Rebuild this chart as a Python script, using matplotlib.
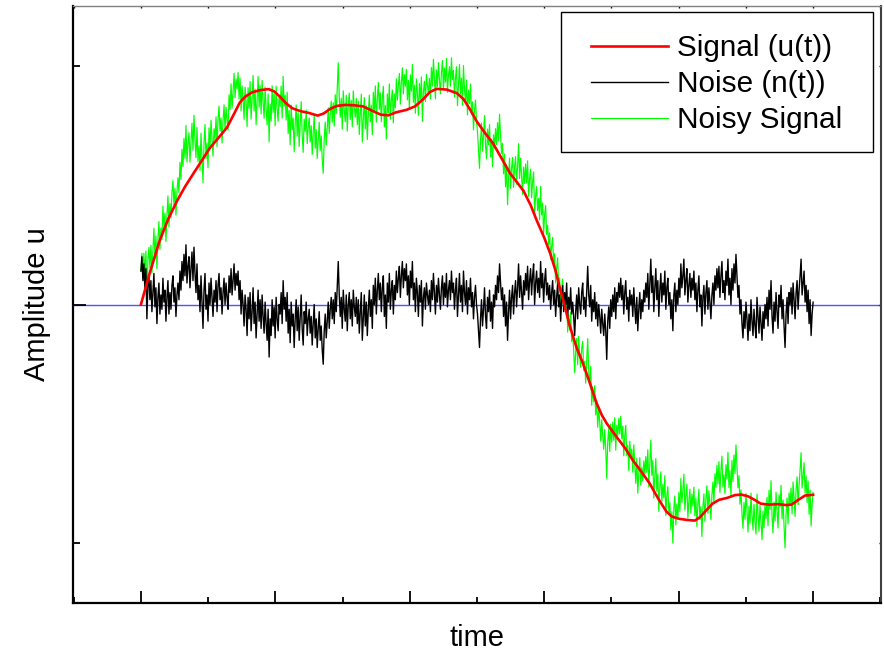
import numpy as np
import matplotlib
matplotlib.use("Agg")
import matplotlib.pyplot as plt
from matplotlib.ticker import MultipleLocator, FixedLocator
from matplotlib.patches import Rectangle

plt.rcParams['font.family'] = ['Liberation Sans', 'DejaVu Sans']

# smooth signal u(t)
signal_t = [0.000, 0.014, 0.028, 0.041, 0.054, 0.066, 0.078, 0.090, 0.103, 0.116,
            0.128, 0.138, 0.147, 0.155, 0.165, 0.178, 0.190, 0.198, 0.207, 0.215,
            0.225, 0.237, 0.250, 0.263, 0.272, 0.282, 0.292, 0.305, 0.318, 0.330,
            0.345, 0.357, 0.368, 0.380, 0.395, 0.408, 0.420, 0.430, 0.440, 0.455,
            0.470, 0.480, 0.490, 0.500, 0.512, 0.524, 0.537, 0.549, 0.560, 0.569,
            0.580, 0.589, 0.600, 0.609, 0.617, 0.623, 0.630, 0.637, 0.648, 0.656,
            0.663, 0.671, 0.678, 0.686, 0.693, 0.700, 0.708, 0.720, 0.732, 0.745,
            0.757, 0.770, 0.782, 0.790, 0.800, 0.812, 0.824, 0.832, 0.840, 0.850,
            0.860, 0.872, 0.884, 0.893, 0.903, 0.913, 0.922, 0.935, 0.948, 0.960,
            0.968, 0.978, 0.988, 1.000]
signal_u = [0.000, 0.140, 0.268, 0.360, 0.435, 0.495, 0.548, 0.600, 0.657, 0.700,
            0.741, 0.795, 0.845, 0.870, 0.888, 0.898, 0.902, 0.893, 0.870, 0.845,
            0.822, 0.810, 0.802, 0.791, 0.800, 0.820, 0.832, 0.836, 0.834, 0.830,
            0.810, 0.795, 0.792, 0.805, 0.815, 0.830, 0.860, 0.890, 0.903, 0.900,
            0.885, 0.860, 0.815, 0.765, 0.718, 0.674, 0.610, 0.550, 0.510, 0.477,
            0.415, 0.351, 0.280, 0.213, 0.140, 0.071, 0.000, -0.080, -0.180, -0.235,
            -0.289, -0.355, -0.414, -0.465, -0.498, -0.525, -0.556, -0.600, -0.653, -0.702,
            -0.750, -0.815, -0.868, -0.888, -0.897, -0.902, -0.905, -0.890, -0.865, -0.835,
            -0.818, -0.810, -0.798, -0.796, -0.803, -0.818, -0.834, -0.838, -0.836, -0.840,
            -0.838, -0.818, -0.800, -0.797]

# noise n(t), sampled evenly over the time span
noise_n = [
    0.14, 0.20, 0.10, 0.17, 0.06, 0.15, -0.06, 0.08, 0.12, 0.02, 0.10, -0.03,
    0.05, 0.13, -0.01, 0.07, -0.08, 0.03, 0.09, -0.04, 0.04, -0.02, 0.11, 0.01,
    0.06, -0.07, 0.03, 0.10, -0.04, 0.05, -0.02, 0.08, 0.12, 0.01, 0.07, -0.05,
    0.04, 0.09, 0.02, 0.14, 0.06, 0.18, 0.10, 0.21, 0.12, 0.25, 0.09, 0.16,
    0.20, 0.07, 0.15, 0.22, 0.10, 0.24, 0.13, 0.05, 0.17, 0.02, 0.08, -0.03,
    0.12, 0.01, -0.10, 0.06, 0.13, -0.02, 0.04, -0.07, 0.09, 0.00, 0.11, 0.03,
    -0.05, 0.06, 0.01, 0.10, -0.03, 0.08, 0.13, 0.02, 0.07, -0.04, 0.05, 0.11,
    0.00, 0.09, 0.03, -0.02, 0.12, 0.05, 0.15, 0.04, 0.10, 0.17, 0.06, 0.13,
    0.08, 0.14, 0.02, 0.10, -0.04, 0.06, 0.00, -0.09, 0.04, -0.02, -0.13, 0.03,
    -0.06, 0.05, -0.11, -0.03, 0.07, -0.08, 0.01, -0.14, -0.04, 0.06, -0.07, 0.02,
    -0.10, 0.04, -0.05, -0.12, 0.01, -0.08, -0.15, -0.02, -0.22, -0.06, -0.13, 0.02,
    -0.09, -0.01, -0.14, 0.03, -0.06, -0.11, 0.00, -0.04, 0.05, -0.08, 0.10, -0.02,
    0.03, -0.07, 0.05, -0.12, -0.02, -0.16, 0.01, -0.09, -0.04, -0.18, -0.06, 0.02,
    -0.11, -0.01, -0.15, -0.05, 0.04, -0.10, -0.17, -0.03, -0.08, 0.01, -0.13, -0.06,
    -0.02, -0.12, -0.05, -0.17, -0.08, 0.00, -0.14, -0.06, -0.18, -0.10, -0.03, -0.15,
    -0.09, -0.19, -0.25, -0.11, -0.04, -0.14, -0.07, 0.01, -0.10, -0.02, 0.03, -0.06,
    0.02, -0.08, 0.05, -0.03, 0.08, 0.18, 0.04, -0.05, 0.03, -0.10, 0.06, -0.02,
    -0.07, 0.04, -0.11, 0.00, 0.05, -0.06, 0.02, -0.09, 0.06, -0.01, -0.05, 0.03,
    -0.08, 0.02, -0.12, -0.03, 0.05, -0.15, -0.06, 0.04, -0.09, 0.01, -0.13, -0.02,
    0.06, -0.05, 0.02, -0.10, 0.08, 0.00, 0.11, -0.04, 0.06, 0.13, 0.02, 0.09,
    -0.03, 0.07, 0.12, -0.05, 0.04, -0.10, 0.09, 0.01, 0.13, -0.02, 0.06, 0.10,
    -0.04, 0.08, 0.02, 0.14, 0.05, 0.11, 0.16, 0.03, 0.12, 0.18, 0.07, 0.15,
    0.10, 0.17, 0.04, 0.12, 0.00, 0.14, 0.07, 0.18, 0.02, 0.09, -0.03, 0.11,
    0.05, -0.05, 0.08, 0.01, 0.10, -0.09, 0.03, 0.07, -0.02, 0.09, 0.04, 0.00,
    0.06, -0.03, 0.10, 0.02, 0.13, 0.05, -0.04, 0.08, 0.01, 0.11, 0.04, -0.02,
    0.07, 0.12, 0.00, 0.09, 0.03, 0.13, -0.01, 0.06, 0.10, 0.02, 0.14, 0.05,
    0.09, -0.02, 0.06, 0.11, -0.05, 0.04, 0.13, 0.01, 0.08, -0.03, 0.14, 0.05,
    0.00, 0.10, -0.04, 0.07, 0.02, 0.11, -0.01, 0.05, -0.06, 0.03, 0.08, 0.00,
    -0.04, -0.11, -0.18, -0.06, 0.02, -0.09, -0.02, 0.07, -0.05, -0.10, 0.03, -0.03,
    0.06, -0.07, 0.01, -0.10, 0.04, -0.01, 0.08, 0.02, 0.12, 0.05, 0.17, 0.09,
    0.02, 0.07, -0.05, 0.04, -0.09, 0.01, -0.15, -0.03, 0.06, -0.06, 0.03, 0.08,
    -0.04, 0.05, 0.10, -0.01, 0.07, 0.17, 0.03, 0.12, 0.05, -0.02, 0.10, 0.04,
    0.13, 0.06, 0.16, 0.02, 0.10, 0.15, 0.04, 0.12, 0.17, 0.00, 0.09, 0.14,
    0.05, 0.11, 0.03, 0.18, 0.07, 0.13, 0.01, 0.10, 0.15, 0.04, 0.09, 0.02,
    0.08, -0.02, 0.05, 0.10, 0.00, 0.06, -0.05, 0.03, 0.09, -0.01, 0.04, -0.07,
    0.02, 0.08, -0.03, 0.05, 0.00, 0.09, -0.06, 0.03, -0.02, 0.07, -0.04, 0.01,
    -0.05, -0.13, -0.03, 0.04, -0.06, 0.07, 0.00, -0.04, 0.05, 0.09, -0.02, 0.03,
    -0.05, 0.06, 0.16, 0.04, -0.01, 0.08, -0.07, 0.02, -0.03, 0.05, -0.06, 0.01,
    -0.09, 0.00, -0.05, -0.12, -0.02, -0.08, -0.13, -0.04, -0.11, -0.23, -0.07, -0.01,
    -0.10, 0.02, -0.05, 0.04, -0.03, 0.07, -0.06, 0.05, 0.01, 0.09, 0.03, 0.11,
    0.02, 0.08, -0.04, 0.05, 0.10, -0.02, 0.03, -0.07, 0.06, 0.00, 0.04, -0.05,
    0.07, -0.01, -0.08, 0.03, -0.11, -0.02, 0.05, -0.06, 0.02, -0.03, 0.06, 0.01,
    0.09, 0.03, 0.13, -0.02, 0.08, 0.19, 0.05, 0.12, -0.03, 0.07, 0.15, 0.02,
    0.10, -0.05, 0.06, 0.13, 0.01, 0.09, 0.04, 0.14, -0.02, 0.07, 0.11, 0.00,
    0.05, -0.06, 0.02, -0.11, 0.04, 0.09, -0.03, 0.06, 0.00, 0.11, 0.03, 0.17,
    0.07, 0.12, 0.19, 0.04, 0.10, 0.15, 0.01, 0.08, 0.13, 0.03, 0.11, 0.06,
    0.14, 0.02, 0.09, -0.03, 0.06, 0.12, -0.01, 0.04, -0.09, 0.03, 0.08, -0.04,
    0.05, 0.10, -0.02, 0.07, 0.01, -0.06, 0.04, 0.09, 0.00, 0.12, 0.06, 0.15,
    0.07, 0.16, 0.03, 0.12, 0.18, 0.05, 0.10, 0.02, 0.14, 0.08, 0.19, 0.04,
    0.11, 0.00, 0.15, 0.06, 0.17, 0.09, 0.21, 0.12, 0.03, 0.08, -0.04, 0.02,
    -0.08, -0.14, -0.03, -0.10, 0.01, -0.06, -0.15, -0.04, -0.11, 0.02, -0.07, -0.13,
    -0.02, -0.09, -0.14, 0.03, -0.05, -0.12, -0.01, -0.08, -0.15, -0.03, -0.10, 0.00,
    -0.06, 0.03, -0.09, 0.06, -0.02, 0.10, -0.05, -0.12, 0.01, -0.07, 0.05, -0.03,
    -0.10, 0.04, -0.01, 0.08, -0.06, 0.02, -0.09, -0.18, -0.04, 0.03, -0.08, 0.05,
    0.00, 0.07, -0.04, 0.09, 0.02, -0.06, 0.05, 0.10, -0.02, 0.06, 0.12, 0.19,
    0.04, 0.09, 0.14, 0.01, 0.08, -0.03, 0.06, -0.08, 0.02, -0.13, -0.04, 0.01,
]
noise_t = np.linspace(0.0, 1.0, len(noise_n))

# noisy signal = u(t) + n(t)
noisy = np.interp(noise_t, signal_t, signal_u) + np.array(noise_n)

W, H = 884, 651
fig = plt.figure(figsize=(W / 100, H / 100), dpi=100)
ax = fig.add_axes([73 / W, 1 - 603 / H, (881 - 73) / W, (603 - 6) / H])

ax.axhline(0, color='#5050ff', lw=1.0, zorder=1)
ax.plot(noise_t, noisy, color='#00ff00', lw=0.85, label='Noisy Signal', zorder=2)
ax.plot(noise_t, noise_n, color='black', lw=1.0, label='Noise (n(t))', zorder=3)
ax.plot(signal_t, signal_u, color='red', lw=1.9, label='Signal (u(t))', zorder=4)

ax.set_xlim(-0.101, 1.101)
ax.set_ylim(-1.25, 1.25)

ax.xaxis.set_major_locator(MultipleLocator(0.2))
ax.xaxis.set_minor_locator(MultipleLocator(0.1))
ax.yaxis.set_major_locator(FixedLocator([0]))
ax.yaxis.set_minor_locator(FixedLocator([-1, 1]))
ax.tick_params(which='both', direction='in', labelbottom=False, labelleft=False,
               top=True, right=True)
ax.tick_params(axis='x', which='major', length=8.6, width=1.3)
ax.tick_params(axis='x', which='minor', length=4.3, width=1.3)
ax.tick_params(axis='y', which='major', length=9.4, width=1.3)
ax.tick_params(axis='y', which='minor', length=5.0, width=1.3)

# short ticks on the top and right edges
fig.canvas.draw()
for axis in (ax.xaxis, ax.yaxis):
    for tk in axis.get_major_ticks() + axis.get_minor_ticks():
        tk.tick2line.set_markersize(1.6)
        tk.tick2line.set_markeredgewidth(1.0)

for side in ('left', 'bottom'):
    ax.spines[side].set_linewidth(1.6)
    ax.spines[side].set_color('black')
ax.spines['top'].set_linewidth(1.0)
ax.spines['top'].set_color('#808080')
ax.spines['right'].set_linewidth(1.5)
ax.spines['right'].set_color('#404040')

ax.set_xlabel('time', fontsize=21, labelpad=15)
ax.set_ylabel('Amplitude u', fontsize=21, labelpad=16)

handles, labels = ax.get_legend_handles_labels()
order = [2, 1, 0]
leg = ax.legend([handles[i] for i in order], [labels[i] for i in order],
                loc='upper left', bbox_to_anchor=(591 / W, 1 - 34 / H),
                bbox_transform=fig.transFigure, fontsize=21.4, frameon=False,
                borderpad=0, labelspacing=0.27, handlelength=2.6,
                handletextpad=0.3, borderaxespad=0)
# legend border
fig.patches.append(Rectangle((561 / W, 1 - 152 / H), (873 - 561) / W, (152 - 12) / H,
                             transform=fig.transFigure, fill=False,
                             edgecolor='black', lw=1.0, zorder=5))

fig.savefig('out.png', dpi=100)
